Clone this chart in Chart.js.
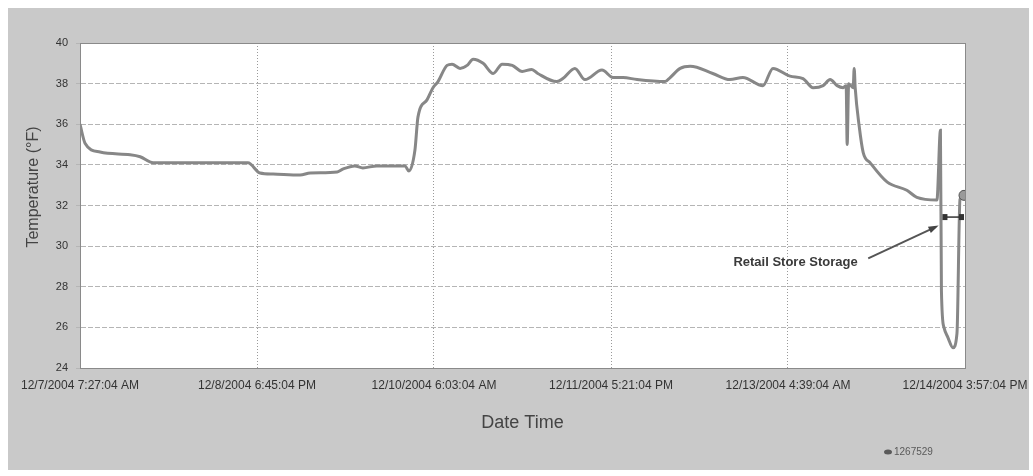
<!DOCTYPE html>
<html>
<head>
<meta charset="utf-8">
<script src="https://cdn.jsdelivr.net/npm/chart.js@4/dist/chart.umd.min.js"></script>
<style>
  html, body { margin: 0; padding: 0; background: #fff; }
  #wrap { width: 1033px; height: 476px; }
</style>
</head>
<body>
<div id="wrap"><canvas id="chart" width="1033" height="476"></canvas></div>
<script>
// ── Data (hours since 12/7/2004 7:27:04 AM, °F) ─────────────
const timeHours = [
    0, 1.0, 4.0, 10.0, 12.0, 14.6, 33.5, 35.9, 38.5, 43.9, 45.9, 51.3, 52.5, 54.8, 56.4, 59.2,
    64.8, 65.6, 66.8, 67.4, 69.2, 70.4, 71.4, 73.2, 74.2, 75.8, 77.2, 78.4, 80.4, 82.4, 84.2,
    86.2, 88.2, 90.1, 91.3, 95.1, 96.3, 98.7, 100.7, 104.1, 106.3, 108.3, 111.1, 116.7, 117.7,
    119.7, 121.7, 126.2, 129.6, 132.2, 136.2, 138.2, 141.6, 144.2, 146.2, 148.2, 149.6, 151.0,
    152.2, 152.8, 153.0, 153.3, 154.2, 154.4, 154.6, 155.4, 156.2, 157.6, 161.0, 164.9, 166.9,
    170.9, 171.6, 171.8, 172.3, 173.1, 174.1, 174.9, 175.5, 176.3,
];
const tempF = [
    36.0, 35.07, 34.63, 34.5, 34.4, 34.1, 34.1, 33.6, 33.55, 33.5, 33.6, 33.65, 33.8, 33.95, 33.85, 33.95,
    33.95, 33.7, 34.73, 36.35, 37.2, 37.8, 38.1, 38.9, 38.96, 38.75, 38.9, 39.2, 39.0, 38.5, 38.96,
    38.9, 38.6, 38.7, 38.5, 38.1, 38.25, 38.75, 38.2, 38.67, 38.3, 38.3, 38.2, 38.1, 38.3,
    38.75, 38.85, 38.5, 38.2, 38.3, 37.9, 38.75, 38.37, 38.25, 37.8, 37.9, 38.2, 37.9,
    37.8, 37.9, 35.0, 38.0, 37.8, 38.75, 37.8, 35.9, 34.6, 34.1, 33.15, 32.75, 32.4,
    32.27, 35.7, 27.8, 26.0, 25.5, 25.0, 25.7, 32.3, 32.5,
];

const xTickHours = [0, 35.3, 70.6, 105.9, 141.2, 176.5];
const xTickLabels = [
    '12/7/2004 7:27:04 AM', '12/8/2004 6:45:04 PM', '12/10/2004 6:03:04 AM',
    '12/11/2004 5:21:04 PM', '12/13/2004 4:39:04 AM', '12/14/2004 3:57:04 PM',
];

// annotation anchors, in data units
const noteText = 'Retail Store Storage';
const notePos = { x: 142.7, y: 29.2 };
const noteArrow = { from: { x: 157.2, y: 29.4 }, to: { x: 170.7, y: 30.95 } };
const spanArrow = { x1: 172.4, x2: 175.9, y: 31.43 };
const serialText = '1267529';
const yTitle = 'Temperature (°F)';

const FONT = '"Liberation Sans", Arial, sans-serif';

// ── Panel, plot border, annotations ─────────────────────────
const decor = {
    id: 'decor',
    beforeDraw(chart) {
        const { ctx, chartArea: a } = chart;
        ctx.save();
        ctx.fillStyle = '#c9c9c9';
        ctx.fillRect(8, 8, chart.width - 12, chart.height - 14);
        ctx.fillStyle = '#ffffff';
        ctx.fillRect(a.left, a.top, a.right - a.left, a.bottom - a.top);
        ctx.restore();
    },
    afterDraw(chart) {
        const { ctx, chartArea: a, scales: { x, y } } = chart;
        const px = p => [x.getPixelForValue(p.x), y.getPixelForValue(p.y)];
        ctx.save();
        ctx.strokeStyle = '#8a8a8a';
        ctx.lineWidth = 1;
        ctx.strokeRect(a.left + 0.5, a.top + 0.5, a.right - a.left, a.bottom - a.top);

        // y axis title (sits a little above the axis middle in the original)
        ctx.save();
        ctx.translate(34, 187);
        ctx.rotate(-Math.PI / 2);
        ctx.fillStyle = '#444';
        ctx.font = '16px ' + FONT;
        ctx.textAlign = 'center';
        ctx.textBaseline = 'middle';
        ctx.fillText(yTitle, 0, 0);
        ctx.restore();

        // note text
        ctx.fillStyle = '#3a3a3a';
        ctx.font = 'bold 13px ' + FONT;
        ctx.textAlign = 'center';
        ctx.textBaseline = 'middle';
        const [tx, ty] = px(notePos);
        ctx.fillText(noteText, tx, ty);

        // pointer arrow
        const [fx, fy] = px(noteArrow.from);
        const [hx, hy] = px(noteArrow.to);
        ctx.strokeStyle = '#555';
        ctx.lineWidth = 2;
        ctx.beginPath();
        ctx.moveTo(fx, fy);
        ctx.lineTo(hx, hy);
        ctx.stroke();
        const ang = Math.atan2(hy - fy, hx - fx);
        ctx.fillStyle = '#444';
        ctx.beginPath();
        ctx.moveTo(hx + 3 * Math.cos(ang), hy + 3 * Math.sin(ang));
        ctx.lineTo(hx - 8 * Math.cos(ang - 0.45), hy - 8 * Math.sin(ang - 0.45));
        ctx.lineTo(hx - 8 * Math.cos(ang + 0.45), hy - 8 * Math.sin(ang + 0.45));
        ctx.closePath();
        ctx.fill();

        // span marker
        const sx1 = x.getPixelForValue(spanArrow.x1);
        const sx2 = x.getPixelForValue(spanArrow.x2);
        const sy = y.getPixelForValue(spanArrow.y);
        ctx.strokeStyle = '#333';
        ctx.lineWidth = 1.5;
        ctx.beginPath();
        ctx.moveTo(sx1, sy);
        ctx.lineTo(sx2, sy);
        ctx.stroke();
        ctx.fillStyle = '#333';
        ctx.fillRect(sx1 - 2, sy - 3, 5, 6);
        ctx.fillRect(sx2 - 3, sy - 3, 5, 6);

        // serial tag
        ctx.font = '10px ' + FONT;
        ctx.textAlign = 'left';
        ctx.fillStyle = '#5a5a5a';
        ctx.fillText(serialText, 894, 452);
        ctx.beginPath();
        ctx.ellipse(888, 452, 4, 2.5, 0, 0, Math.PI * 2);
        ctx.fill();
        ctx.restore();
    },
};

// ── Chart ───────────────────────────────────────────────────
new Chart(document.getElementById('chart'), {
    type: 'line',
    data: {
        datasets: [{
            data: timeHours.map((h, i) => ({ x: h, y: tempF[i] })),
            borderColor: '#878787',
            borderWidth: 3,
            cubicInterpolationMode: 'monotone',
            pointRadius: ctx => ctx.dataIndex === timeHours.length - 1 ? 5 : 0,
            pointBackgroundColor: '#9a9a9a',
            pointBorderColor: '#555',
            pointBorderWidth: 1,
        }],
    },
    options: {
        responsive: false,
        animation: false,
        layout: { padding: { left: 8, right: 68, top: 43, bottom: 38 } },
        plugins: { legend: { display: false }, tooltip: { enabled: false } },
        scales: {
            x: {
                type: 'linear',
                min: 0,
                max: 176.5,
                afterFit: s => { s.height = 70; s.paddingLeft = 0; s.paddingRight = 0; },
                afterBuildTicks: s => { s.ticks = xTickHours.map(v => ({ value: v })); },
                ticks: {
                    autoSkip: false,
                    maxRotation: 0,
                    padding: 10,
                    color: '#333',
                    font: { family: FONT, size: 12 },
                    callback: (v, i) => xTickLabels[i],
                },
                grid: { color: '#9a9a9a', drawTicks: false },
                border: { color: '#777', dash: [1, 2] },
                title: {
                    display: true,
                    text: 'Date Time',
                    color: '#444',
                    font: { family: FONT, size: 18 },
                    padding: { top: 0, bottom: 4 },
                },
            },
            y: {
                min: 24,
                max: 40,
                afterFit: s => { s.width = 72; },
                ticks: {
                    stepSize: 2,
                    padding: 8,
                    color: '#333',
                    font: { family: FONT, size: 11 },
                },
                grid: { color: '#b5b5b5', tickLength: 4 },
                border: { color: '#777', dash: [5, 2] },
                title: { display: false },
            },
        },
    },
    plugins: [decor],
});
</script>
</body>
</html>
